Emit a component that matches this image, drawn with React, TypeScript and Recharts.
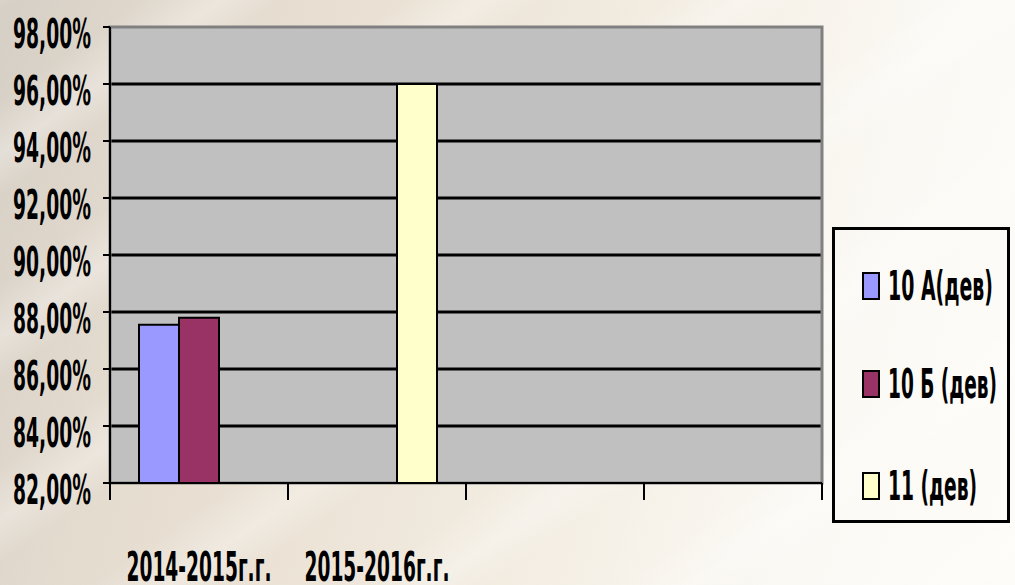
import {
  BarChart,
  Bar,
  XAxis,
  YAxis,
  CartesianGrid,
  Legend,
  ReferenceArea,
} from "recharts";

const categories = ["2014-2015г.г.", "2015-2016г.г.", "", " "];
const class10A = [87.55, null, null, null];
const class10B = [87.8, null, null, null];
const class11 = [null, 96.0, null, null];
const yTicks = [82, 84, 86, 88, 90, 92, 94, 96, 98];
const gridValues = [84, 86, 88, 90, 92, 94, 96];

const seriesNames = ["10 А(дев)", "10 Б (дев)", "11 (дев)"];
const seriesColors = ["#9999ff", "#993366", "#ffffcc"];
const legendWidths = [105, 109, 89];

const data = categories.map((name, i) => ({
  name,
  a: class10A[i],
  b: class10B[i],
  c: class11[i],
}));

const FONT = '"DejaVu Sans Condensed", "DejaVu Sans", sans-serif';
const FS = 21;
const SY = 1.95;

const fmt = (v: number) => v.toFixed(2).replace(".", ",") + "%";

// tall narrow text, like the stretched original
function Tall({ x, y, w, anchor, children }: any) {
  return (
    <text
      transform={`translate(${x} ${y}) scale(1 ${SY})`}
      x={0}
      y={0}
      textAnchor={anchor || "start"}
      fontFamily={FONT}
      fontWeight="bold"
      fontSize={FS}
      fill="#000"
      textLength={w}
      lengthAdjust="spacingAndGlyphs"
    >
      {children}
    </text>
  );
}

function YTick(props: any) {
  const { x, y, payload } = props;
  return (
    <Tall x={x} y={y + 21} w={78} anchor="end">
      {fmt(payload.value)}
    </Tall>
  );
}

function XTick(props: any) {
  const { x, y, payload, index } = props;
  const half = 89;
  const label = String(payload.value).trim();
  return (
    <g>
      <line x1={x - half} x2={x - half} y1={y} y2={y + 17} stroke="#000" strokeWidth={2} />
      {index === categories.length - 1 && (
        <line x1={x + half} x2={x + half} y1={y} y2={y + 17} stroke="#000" strokeWidth={2} />
      )}
      {label && (
        <Tall x={x} y={y + 98} w={145} anchor="middle">
          {label}
        </Tall>
      )}
    </g>
  );
}

function LegendBox(props: any) {
  const items = props.payload || [];
  const rows = [59, 157, 259];
  return (
    <svg width={178} height={296} style={{ display: "block" }}>
      <rect x={1.5} y={1.5} width={175} height={293} fill="none" stroke="#000" strokeWidth={3} />
      {items.map((it: any, i: number) => (
        <g key={i}>
          <rect
            x={31}
            y={rows[i] - 13}
            width={16}
            height={26}
            fill={it.color}
            stroke="#000"
            strokeWidth={2}
          />
          <Tall x={56} y={rows[i] + 14} w={legendWidths[i]}>
            {it.value}
          </Tall>
        </g>
      ))}
    </svg>
  );
}

export default function App() {
  return (
    <div
      style={{
        position: "absolute",
        left: 0,
        top: 0,
        width: 1015,
        height: 585,
        overflow: "hidden",
        background:
          "linear-gradient(105deg, #d6cfc5 0%, #e4dbcf 18%, #ebe2d5 35%, #f0e9dd 50%, #f6f1e8 65%, #fbf9f4 80%, #fdfcf8 100%)",
      }}
    >
      <div
        style={{
          position: "absolute",
          inset: 0,
          background:
            "repeating-linear-gradient(-35deg, rgba(255,255,255,0) 0px, rgba(255,255,255,0.3) 35px, rgba(255,255,255,0) 80px, rgba(255,255,255,0) 150px)",
        }}
      />
      <div style={{ position: "absolute", left: 0, top: 0 }}>
        <BarChart
          width={1015}
          height={585}
          data={data}
          margin={{ top: 27, right: 193, bottom: 0, left: 0 }}
          barGap={0}
        >
          <CartesianGrid
            vertical={false}
            horizontalValues={gridValues}
            stroke="#000"
            strokeWidth={3}
            fill="#c0c0c0"
            fillOpacity={1}
          />
          <ReferenceArea
            y1={82}
            y2={98}
            fill="none"
            stroke="#808080"
            strokeWidth={3}
          />
          <XAxis
            dataKey="name"
            height={102}
            tickSize={0}
            tickMargin={0}
            tickLine={false}
            axisLine={{ stroke: "#000", strokeWidth: 2 }}
            tick={<XTick />}
            interval={0}
          />
          <YAxis
            width={110}
            domain={[82, 98]}
            ticks={yTicks}
            interval={0}
            tickSize={7}
            tickMargin={12}
            axisLine={{ stroke: "#000", strokeWidth: 2 }}
            tickLine={{ stroke: "#000", strokeWidth: 2 }}
            tick={<YTick />}
            allowDataOverflow
          />
          <Legend
            layout="vertical"
            align="center"
            verticalAlign="middle"
            wrapperStyle={{ left: 832, top: 227, width: 178, height: 296 }}
            content={<LegendBox />}
          />
          <Bar dataKey="a" name={seriesNames[0]} fill={seriesColors[0]} stroke="#000" strokeWidth={2} barSize={40} isAnimationActive={false} />
          <Bar dataKey="b" name={seriesNames[1]} fill={seriesColors[1]} stroke="#000" strokeWidth={2} barSize={40} isAnimationActive={false} />
          <Bar dataKey="c" name={seriesNames[2]} fill={seriesColors[2]} stroke="#000" strokeWidth={2} barSize={40} isAnimationActive={false} />
        </BarChart>
      </div>
    </div>
  );
}
